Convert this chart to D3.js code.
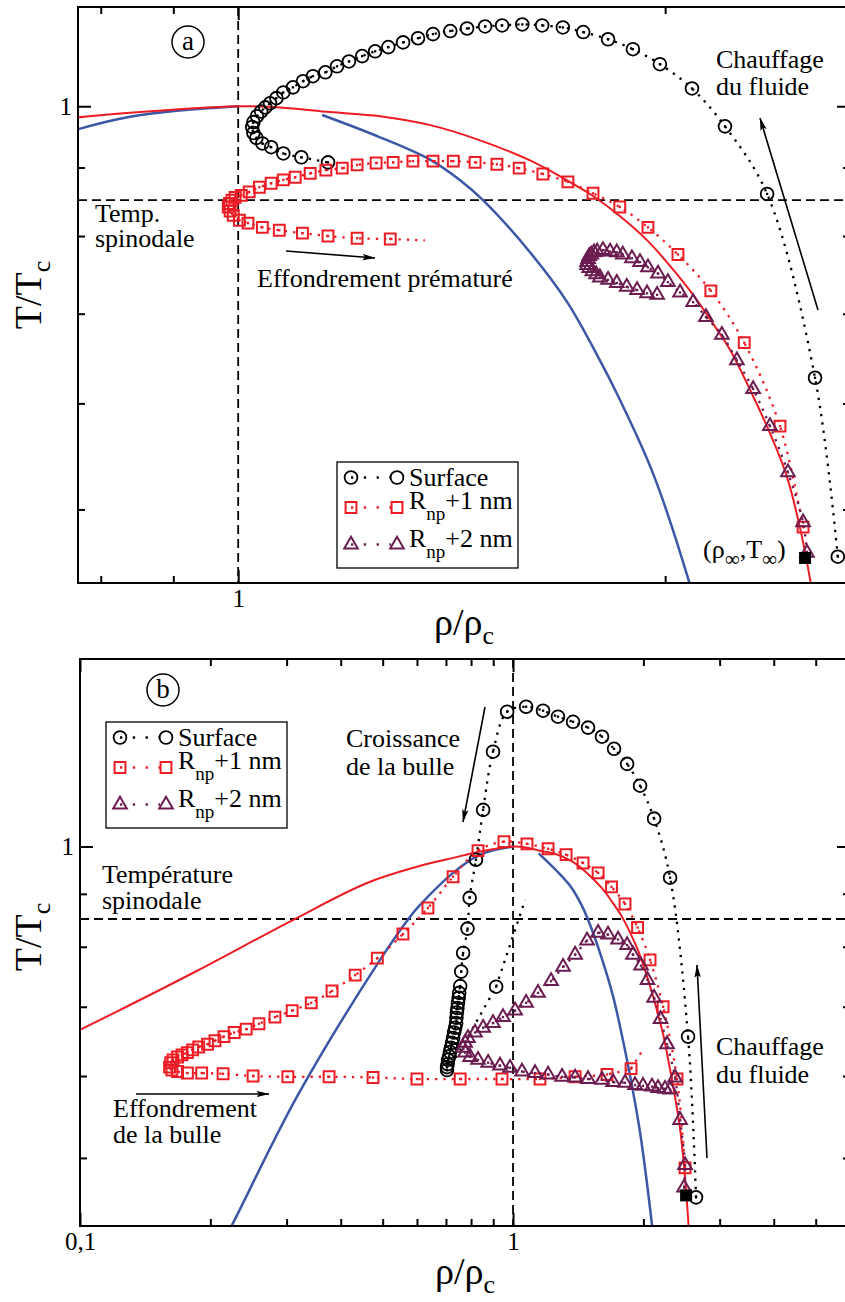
<!DOCTYPE html>
<html><head><meta charset="utf-8">
<script src="https://cdn.jsdelivr.net/npm/d3@7"></script>
<style>
body{margin:0;background:#fff}
svg{display:block}
</style></head><body>
<svg id="chart" width="845" height="1302"></svg>
<script>
// ---------------- DATA ----------------
const rhoRangeA = [0.771, 2.70];
const tRangeA   = [0.4406, 1.186];
const rhoRangeB = [0.1, 6.0];
const tRangeB   = [0.4297, 1.518];
const tSpinodal = 0.851;
const rhoInf = [2.51, 0.46];

const xMinorA = [0.8, 0.9, 2];
const xMajorA = [1];
const xLabelsA = ["1"];
const yMinorA = [0.5, 0.6, 0.7, 0.8, 0.9];
const yMajorA = [1];
const yLabelsA = ["1"];
const xMinorB = [0.2, 0.3, 0.4, 0.5, 0.6, 0.7, 0.8, 0.9, 2, 3, 4, 5];
const xMajorB = [0.1, 1];
const xLabelsB = ["0,1", "1"];
const yMinorB = [0.5, 0.6, 0.7, 0.8, 0.9];
const yMajorB = [1];
const yLabelsB = ["1"];

const binodal = [[0.095,0.658],[0.1,0.665],[0.128,0.700],[0.186,0.758],[0.310,0.849],[0.460,0.922],[0.600,0.956],[0.727,0.975],[0.830,0.988],[1,1],[1.070,0.998],[1.161,0.990],[1.259,0.983],[1.366,0.968],[1.481,0.943],[1.606,0.911],[1.694,0.884],[1.779,0.857],[1.858,0.828],[1.945,0.793],[2.022,0.757],[2.093,0.723],[2.158,0.690],[2.222,0.658],[2.296,0.614],[2.371,0.570],[2.437,0.529],[2.489,0.485],[2.531,0.443],[2.551,0.420]];
const spinodalLeft = [[0.215,0.417],[0.224,0.430],[0.317,0.573],[0.493,0.777],[0.578,0.855],[0.610,0.878],[0.727,0.943],[0.839,0.982],[1,1]];
const spinodalRight = [[1.146,0.985],[1.259,0.948],[1.366,0.912],[1.433,0.881],[1.488,0.851],[1.606,0.778],[1.706,0.714],[1.799,0.646],[1.858,0.604],[1.961,0.532],[2.08,0.441],[2.106,0.420]];

const surfaceA = [[2.647,0.461],[2.551,0.627],[2.360,0.860],[2.204,0.966],[2.089,1.031],[1.983,1.075],[1.898,1.103],[1.823,1.122],[1.751,1.136],[1.694,1.145],[1.638,1.149],[1.586,1.151],[1.535,1.149],[1.493,1.147],[1.450,1.143],[1.411,1.138],[1.372,1.132],[1.339,1.124],[1.307,1.116],[1.276,1.107],[1.249,1.099],[1.223,1.090],[1.197,1.080],[1.174,1.071],[1.152,1.060],[1.129,1.053],[1.111,1.044],[1.093,1.033],[1.076,1.024],[1.064,1.014],[1.053,1.005],[1.045,0.998],[1.038,0.991],[1.031,0.983],[1.025,0.973],[1.023,0.965],[1.025,0.955],[1.030,0.947],[1.040,0.938],[1.055,0.932],[1.076,0.922],[1.108,0.916],[1.157,0.908]];
const squaresA = [[2.502,0.485],[2.410,0.577],[2.274,0.666],[2.154,0.728],[2.042,0.775],[1.945,0.812],[1.858,0.841],[1.779,0.861],[1.708,0.878],[1.640,0.890],[1.578,0.899],[1.522,0.905],[1.469,0.908],[1.418,0.910],[1.372,0.910],[1.328,0.910],[1.286,0.908],[1.251,0.907],[1.213,0.904],[1.184,0.899],[1.153,0.896],[1.124,0.891],[1.097,0.885],[1.076,0.881],[1.055,0.876],[1.035,0.870],[1.018,0.863],[1.005,0.858],[0.995,0.855],[0.990,0.851],[0.986,0.846],[0.984,0.841],[0.987,0.835],[0.992,0.829],[1.002,0.822],[1.016,0.818],[1.040,0.812],[1.069,0.808],[1.110,0.804],[1.157,0.800],[1.213,0.797],[1.280,0.796]];
const squaresATail = [[1.354,0.794]];
const trianglesA = [[2.518,0.464],[2.502,0.489],[2.441,0.533],[2.371,0.577],[2.307,0.615],[2.247,0.646],[2.193,0.675],[2.137,0.696],[2.093,0.714],[2.049,0.726],[2.009,0.739],[1.977,0.750],[1.945,0.758],[1.920,0.765],[1.895,0.770],[1.867,0.775],[1.849,0.778],[1.829,0.779],[1.808,0.781],[1.791,0.779],[1.782,0.778],[1.774,0.775],[1.768,0.773],[1.765,0.769],[1.762,0.765],[1.762,0.761],[1.768,0.757],[1.777,0.753],[1.788,0.749],[1.799,0.745],[1.823,0.742],[1.849,0.738],[1.879,0.733],[1.911,0.729],[1.942,0.725],[1.974,0.723]];

const surfaceB = [[2.646,0.458],[2.536,0.655],[2.305,0.933],[2.117,1.064],[1.965,1.145],[1.834,1.202],[1.711,1.243],[1.605,1.277],[1.490,1.303],[1.376,1.320],[1.270,1.335],[1.173,1.353],[1.072,1.365],[0.969,1.350],[0.899,1.235],[0.853,1.085],[0.821,0.971],[0.794,0.892],[0.785,0.833],[0.767,0.789],[0.759,0.757],[0.755,0.733],[0.751,0.722],[0.749,0.714],[0.746,0.706],[0.744,0.698],[0.742,0.691],[0.740,0.683],[0.739,0.675],[0.735,0.668],[0.731,0.661],[0.727,0.653],[0.723,0.646],[0.719,0.639],[0.715,0.633],[0.712,0.627],[0.708,0.622],[0.706,0.616],[0.704,0.612],[0.704,0.608],[0.914,0.732]];
const surfaceBTail = [[1.066,0.888]];
const squaresB = [[2.496,0.489],[2.392,0.596],[2.221,0.700],[2.072,0.777],[1.939,0.835],[1.814,0.880],[1.688,0.914],[1.572,0.943],[1.451,0.964],[1.326,0.982],[1.205,0.995],[1.077,1.006],[0.953,1.011],[0.830,0.991],[0.727,0.935],[0.636,0.872],[0.557,0.823],[0.486,0.780],[0.432,0.751],[0.382,0.725],[0.342,0.706],[0.309,0.694],[0.282,0.684],[0.259,0.674],[0.242,0.666],[0.227,0.661],[0.215,0.655],[0.205,0.649],[0.197,0.644],[0.188,0.640],[0.182,0.636],[0.177,0.632],[0.172,0.629],[0.168,0.626],[0.164,0.622],[0.162,0.618],[0.161,0.612],[0.163,0.608],[0.168,0.606],[0.177,0.604],[0.191,0.604],[0.214,0.603],[0.251,0.600],[0.302,0.599],[0.376,0.599],[0.475,0.598],[0.600,0.596],[0.755,0.596],[0.943,0.596],[1.154,0.596],[1.391,0.599],[1.648,0.602],[1.873,0.610]];
const squaresBTail = [[1.975,0.632]];
const trianglesB = [[2.483,0.468],[2.496,0.492],[2.431,0.544],[2.367,0.598],[2.268,0.644],[2.191,0.681],[2.117,0.714],[2.044,0.743],[1.975,0.767],[1.893,0.786],[1.834,0.803],[1.748,0.813],[1.657,0.822],[1.572,0.825],[1.482,0.811],[1.391,0.786],[1.305,0.765],[1.224,0.741],[1.142,0.722],[1.072,0.706],[1.011,0.694],[0.948,0.684],[0.899,0.675],[0.853,0.668],[0.817,0.661],[0.787,0.653],[0.775,0.646],[0.767,0.639],[0.775,0.632],[0.796,0.626],[0.830,0.622],[0.876,0.618],[0.933,0.614],[0.984,0.611],[1.049,0.606],[1.124,0.604],[1.205,0.602],[1.298,0.599],[1.391,0.598],[1.490,0.596],[1.605,0.595],[1.702,0.592],[1.814,0.591],[1.913,0.588],[1.996,0.587],[2.094,0.586],[2.162,0.584],[2.244,0.583],[2.305,0.582]];

// ---------------- STYLE ----------------
const RED = "#ed1c24", BLUE = "#3b58a6", PURPLE = "#6b1c50", BLACK = "#000";
const FONT = '"Liberation Serif", Tinos, "Times New Roman", serif';

const svg = d3.select("#chart");
const defs = svg.append("defs");
defs.append("marker").attr("id","arrow").attr("viewBox","0 0 13 8")
  .attr("refX",12.5).attr("refY",4).attr("markerWidth",13).attr("markerHeight",8)
  .attr("markerUnits","userSpaceOnUse").attr("orient","auto")
  .append("path").attr("d","M0,0.8 L13,4 L0,7.2 L2.5,4 Z").attr("fill","#000");

function rich(g, x, y, parts, size, anchor) {
  const t = g.append("text").attr("x", x).attr("y", y)
    .attr("text-anchor", anchor || "start")
    .style("font-family", FONT).style("font-size", size + "px").style("fill", "#000");
  let cur = 0;
  parts.forEach(p => {
    const off = p.off || 0;
    const ts = t.append("tspan").text(p.t).attr("dy", off - cur);
    if (p.size) ts.style("font-size", p.size + "px");
    cur = off;
  });
  return t;
}

function drawPanel(p) {
  const g = svg.append("g");
  const sx = d3.scaleLog().domain(p.xDom).range([p.box.l, p.box.r]);
  const sy = d3.scaleLog().domain(p.yDom).range([p.box.b, p.box.t]);
  const clipId = "clip" + p.id;
  defs.append("clipPath").attr("id", clipId).append("rect")
    .attr("x", p.box.l).attr("y", p.box.t).attr("width", p.box.r - p.box.l).attr("height", p.box.b - p.box.t);
  const plot = g.append("g").attr("clip-path", `url(#${clipId})`);
  const marks = g.append("g");

  plot.append("line").attr("x1", sx(1)).attr("x2", sx(1)).attr("y1", p.box.t).attr("y2", p.box.b)
    .attr("stroke", BLACK).attr("stroke-width", 1.8).attr("stroke-dasharray", "9,5");
  plot.append("line").attr("x1", p.box.l).attr("x2", p.box.r).attr("y1", sy(tSpinodal)).attr("y2", sy(tSpinodal))
    .attr("stroke", BLACK).attr("stroke-width", 1.8).attr("stroke-dasharray", "9,5");

  const smooth = d3.line().x(d => sx(d[0])).y(d => sy(d[1])).curve(d3.curveCatmullRom.alpha(0.5));
  [spinodalLeft, spinodalRight].forEach(arr =>
    plot.append("path").attr("d", smooth(arr)).attr("fill", "none").attr("stroke", BLUE).attr("stroke-width", 2.5));
  plot.append("path").attr("d", smooth(binodal)).attr("fill", "none").attr("stroke", RED).attr("stroke-width", 2);

  function series(data, tail, color, symType, size, sw) {
    plot.append("path").attr("d", smooth(data)).attr("fill", "none").attr("stroke", color)
      .attr("stroke-width", 2.3).attr("stroke-dasharray", "2.3,6");
    if (tail) plot.append("path").attr("d", smooth([data[data.length - 1], ...tail])).attr("fill", "none")
      .attr("stroke", color).attr("stroke-width", 2.3).attr("stroke-dasharray", "2.3,6");
    marks.append("g").selectAll("rect").data(data).join("rect")
      .attr("x", d => sx(d[0]) - 1.15).attr("y", d => sy(d[1]) - 1.15)
      .attr("width", 2.3).attr("height", 2.3).attr("fill", color);
    const sym = d3.symbol().type(symType).size(size);
    marks.append("g").selectAll("path").data(data).join("path")
      .attr("transform", d => `translate(${sx(d[0])},${sy(d[1])})`)
      .attr("d", sym).attr("fill", "none").attr("stroke", color).attr("stroke-width", sw);
  }
  series(p.surface, p.surfaceTail, BLACK, d3.symbolCircle, 128, 1.8);
  series(p.squares, p.squaresTail, RED, d3.symbolSquare, 118, 2);
  series(p.triangles, null, PURPLE, d3.symbolTriangle, 80, 2);

  marks.append("rect").datum(rhoInf)
    .attr("x", d => sx(d[0]) - 6).attr("y", d => sy(d[1]) - 6).attr("width", 12).attr("height", 12).attr("fill", BLACK);

  const none = () => "";
  const style = sel => {
    sel.select(".domain").remove();
    sel.attr("font-family", null).attr("font-size", null);
    sel.selectAll("line").attr("stroke", BLACK).attr("stroke-width", 2);
    sel.selectAll("text").style("font-family", FONT).style("font-size", "25px").style("fill", BLACK);
  };
  const ax = g.append("g");
  const lab = (vals, labels) => d => labels[vals.indexOf(d)];
  ax.append("g").attr("transform", `translate(0,${p.box.b})`)
    .call(d3.axisBottom(sx).tickValues(p.xMinor).tickSize(-7).tickFormat(none)).call(style);
  ax.append("g").attr("transform", `translate(0,${p.box.b})`)
    .call(d3.axisBottom(sx).tickValues(p.xMajor).tickSize(-13).tickPadding(6).tickFormat(lab(p.xMajor, p.xLabels))).call(style);
  ax.append("g").attr("transform", `translate(0,${p.box.t})`)
    .call(d3.axisTop(sx).tickValues(p.xMinor).tickSize(-7).tickFormat(none)).call(style);
  ax.append("g").attr("transform", `translate(0,${p.box.t})`)
    .call(d3.axisTop(sx).tickValues(p.xMajor).tickSize(-13).tickFormat(none)).call(style);
  ax.append("g").attr("transform", `translate(${p.box.l},0)`)
    .call(d3.axisLeft(sy).tickValues(p.yMinor).tickSize(-7).tickFormat(none)).call(style);
  ax.append("g").attr("transform", `translate(${p.box.l},0)`)
    .call(d3.axisLeft(sy).tickValues(p.yMajor).tickSize(-13).tickPadding(6).tickFormat(lab(p.yMajor, p.yLabels))).call(style);
  ax.append("g").attr("transform", `translate(${p.box.r},0)`)
    .call(d3.axisRight(sy).tickValues(p.yMinor).tickSize(-7).tickFormat(none)).call(style);
  ax.append("g").attr("transform", `translate(${p.box.r},0)`)
    .call(d3.axisRight(sy).tickValues(p.yMajor).tickSize(-13).tickFormat(none)).call(style);
  g.append("rect").attr("x", p.box.l).attr("y", p.box.t).attr("width", p.box.r - p.box.l).attr("height", p.box.b - p.box.t)
    .attr("fill", "none").attr("stroke", BLACK).attr("stroke-width", 2);

  const yt = g.append("g").attr("transform", `translate(41,${p.yTitleY}) rotate(-90)`);
  rich(yt, 0, 0, [{t: "T/T"}, {t: "c", off: 9, size: 26}], 38, "middle");
  rich(g, (p.box.l + p.box.r) / 2, p.box.b + p.xTitleDy, [{t: "ρ/ρ"}, {t: "c", off: 9, size: 26}], 38, "middle");

  g.append("circle").attr("cx", p.tag.x).attr("cy", p.tag.y).attr("r", 16)
    .attr("fill", "none").attr("stroke", BLACK).attr("stroke-width", 1.5);
  rich(g, p.tag.x, p.tag.y + 8, [{t: p.id}], 27, "middle");

  const L = p.legend;
  g.append("rect").attr("x", L.x).attr("y", L.y).attr("width", 181).attr("height", 106)
    .attr("fill", "#fff").attr("stroke", BLACK).attr("stroke-width", 1.3);
  const rows = [
    {color: BLACK, type: d3.symbolCircle, size: 128, sw: 1.8, dy: 15.5, base: 23.5, parts: [{t: "Surface"}]},
    {color: RED, type: d3.symbolSquare, size: 118, sw: 2, dy: 45.5, base: 46.5, parts: [{t: "R"}, {t: "np", off: 11, size: 19}, {t: "+1 nm", off: 0}]},
    {color: PURPLE, type: d3.symbolTriangle, size: 80, sw: 2, dy: 82.5, base: 85, parts: [{t: "R"}, {t: "np", off: 11, size: 19}, {t: "+2 nm", off: 0}]}
  ];
  rows.forEach(r => {
    const y = L.y + r.dy, x1 = L.x + 14, x2 = L.x + 60;
    g.append("line").attr("x1", x1).attr("x2", x2 - 6).attr("y1", y).attr("y2", y)
      .attr("stroke", r.color).attr("stroke-width", 2.3).attr("stroke-dasharray", "2.3,10.5");
    const sym = d3.symbol().type(r.type).size(r.size);
    [x1, x2].forEach(x => g.append("path").attr("transform", `translate(${x},${y})`).attr("d", sym)
      .attr("fill", "none").attr("stroke", r.color).attr("stroke-width", r.sw));
    rich(g, L.x + 72, L.y + r.base, r.parts, 26);
  });

  p.texts.forEach(t => rich(g, t.x, t.y, t.parts, t.size || 26));
  p.arrows.forEach(a => g.append("line").attr("x1", a[0]).attr("y1", a[1]).attr("x2", a[2]).attr("y2", a[3])
    .attr("stroke", BLACK).attr("stroke-width", 1.6).attr("marker-end", "url(#arrow)"));
}

drawPanel({
  id: "a", box: {l: 78, r: 850, t: 7, b: 583}, xDom: rhoRangeA, yDom: tRangeA,
  xMinor: xMinorA, xMajor: xMajorA, xLabels: xLabelsA, yMinor: yMinorA, yMajor: yMajorA, yLabels: yLabelsA,
  surface: surfaceA, surfaceTail: null, squares: squaresA, squaresTail: squaresATail, triangles: trianglesA,
  xTitleDy: 52, yTitleY: 295, tag: {x: 188, y: 42}, legend: {x: 337, y: 462},
  texts: [
    {x: 95, y: 222, parts: [{t: "Temp."}]},
    {x: 95, y: 247, parts: [{t: "spinodale"}]},
    {x: 257, y: 287, parts: [{t: "Effondrement prématuré"}]},
    {x: 716, y: 68, parts: [{t: "Chauffage"}]},
    {x: 716, y: 95, parts: [{t: "du fluide"}]},
    {x: 703, y: 558, parts: [{t: "(ρ"}, {t: "∞", off: 8, size: 21}, {t: ",T", off: 0}, {t: "∞", off: 8, size: 21}, {t: ")", off: 0}]}
  ],
  arrows: [[286, 251, 375, 258], [818, 310, 760, 118]]
});

drawPanel({
  id: "b", box: {l: 80, r: 850, t: 659, b: 1226}, xDom: rhoRangeB, yDom: tRangeB,
  xMinor: xMinorB, xMajor: xMajorB, xLabels: xLabelsB, yMinor: yMinorB, yMajor: yMajorB, yLabels: yLabelsB,
  surface: surfaceB, surfaceTail: surfaceBTail, squares: squaresB, squaresTail: squaresBTail, triangles: trianglesB,
  xTitleDy: 58, yTitleY: 937, tag: {x: 163, y: 690}, legend: {x: 106, y: 722},
  texts: [
    {x: 102, y: 883, parts: [{t: "Température"}]},
    {x: 102, y: 909, parts: [{t: "spinodale"}]},
    {x: 346, y: 747, parts: [{t: "Croissance"}]},
    {x: 346, y: 775, parts: [{t: "de la bulle"}]},
    {x: 113, y: 1117, parts: [{t: "Effondrement"}]},
    {x: 113, y: 1143, parts: [{t: "de la bulle"}]},
    {x: 716, y: 1055, parts: [{t: "Chauffage"}]},
    {x: 716, y: 1083, parts: [{t: "du fluide"}]}
  ],
  arrows: [[485, 707, 463, 822], [136, 1094, 269, 1094], [707, 1158, 697, 965]]
});
</script>
</body></html>
